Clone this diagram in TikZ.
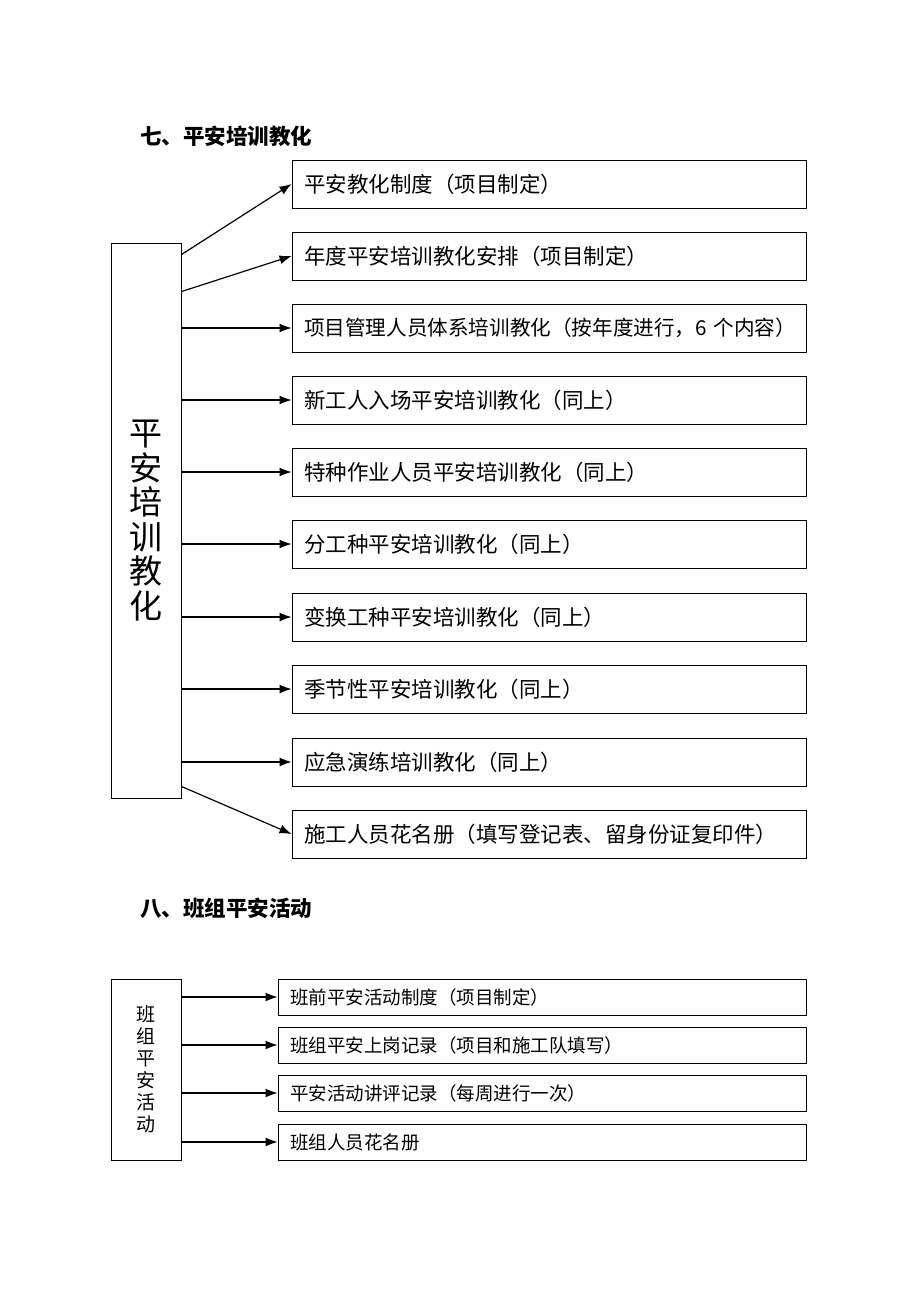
\documentclass[tikz,border=0pt]{standalone}
\usepackage{fontspec}
\setmainfont{Noto Sans CJK SC}
\usetikzlibrary{arrows.meta}
\tikzset{
  item/.style={draw,line width=0.9pt,text width=490pt,inner xsep=12pt,minimum height=48pt,align=left,font=\fontsize{21.5}{24}\selectfont},
  smallitem/.style={draw,line width=0.9pt,text width=504pt,inner xsep=12pt,minimum height=36pt,align=left,font=\fontsize{18.5}{21}\selectfont},
  heading/.style={anchor=west,inner sep=0pt,font=\fontsize{21.5}{24}\selectfont\bfseries},
  arr/.style={line width=1.2pt,-{Latex[length=12pt,width=9pt]}}
}
\begin{document}
\begin{tikzpicture}[x=1pt,y=-1pt]
\useasboundingbox (0,0) rectangle (920,1302);
		% 七
		\node[heading](title1) at (140,136){七、平安培训教化};
		\node[draw,line width=0.9pt,minimum width=70pt,minimum height=555pt,inner sep=0pt,align=center,font=\fontsize{33}{34.5}\selectfont](train) at (146,520.5){平\\安\\培\\训\\教\\化};
		\node[item](b1) at (549,184){平安教化制度（项目制定）};
		\node[item](b2) at (549,256){年度平安培训教化安排（项目制定）};
		\node[item,font=\fontsize{20.6}{23}\selectfont](b3) at (549,328){\mbox{项目管理人员体系培训教化（按年度进行，6 个内容）}};
		\node[item](b4) at (549,400){新工人入场平安培训教化（同上）};
		\node[item](b5) at (549,472){特种作业人员平安培训教化（同上）};
		\node[item](b6) at (549,544){分工种平安培训教化（同上）};
		\node[item](b7) at (549,617){变换工种平安培训教化（同上）};
		\node[item](b8) at (549,689){季节性平安培训教化（同上）};
		\node[item](b9) at (549,762){应急演练培训教化（同上）};
		\node[item](b10) at (549,834){施工人员花名册（填写登记表、留身份证复印件）};
		\draw[arr]([yshift=-12pt]train.north east)--(b1.west);
		\draw[arr]([yshift=-49pt]train.north east)--(b2.west);
		\draw[arr](train.east |- b3.west)--(b3.west);
		\draw[arr](train.east |- b4.west)--(b4.west);
		\draw[arr](train.east |- b5.west)--(b5.west);
		\draw[arr](train.east |- b6.west)--(b6.west);
		\draw[arr](train.east |- b7.west)--(b7.west);
		\draw[arr](train.east |- b8.west)--(b8.west);
		\draw[arr](train.east |- b9.west)--(b9.west);
		\draw[arr]([yshift=12pt]train.south east)--(b10.west);
		% 八
		\node[heading](title2) at (140,908){八、班组平安活动};
		\node[draw,line width=0.9pt,minimum width=70pt,minimum height=181pt,inner sep=0pt,align=center,font=\fontsize{19}{22}\selectfont](team) at (146,1069.5){班\\组\\平\\安\\活\\动};
		\node[smallitem](c1) at (542,997){班前平安活动制度（项目制定）};
		\node[smallitem](c2) at (542,1045){班组平安上岗记录（项目和施工队填写）};
		\node[smallitem](c3) at (542,1093){平安活动讲评记录（每周进行一次）};
		\node[smallitem](c4) at (542,1142){班组人员花名册};
		\draw[arr](team.east |- c1.west)--(c1.west);
		\draw[arr](team.east |- c2.west)--(c2.west);
		\draw[arr](team.east |- c3.west)--(c3.west);
		\draw[arr](team.east |- c4.west)--(c4.west);
\end{tikzpicture}
\end{document}
